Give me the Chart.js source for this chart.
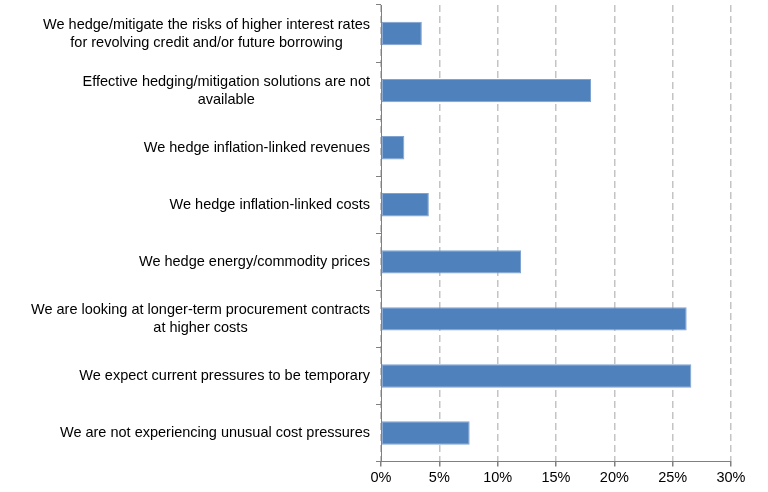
<!DOCTYPE html>
<html><head><meta charset="utf-8">
<script src="https://cdn.jsdelivr.net/npm/chart.js@4"></script>
<style>html,body{margin:0;padding:0;background:#fff}#wrap{width:768px;height:492px}</style>
</head><body><div id="wrap"><canvas id="c"></canvas></div>
<script>
const categories = [
  ["We hedge/mitigate the risks of higher interest rates", "for revolving credit and/or future borrowing"],
  ["Effective hedging/mitigation solutions are not", "available"],
  ["We hedge inflation-linked revenues"],
  ["We hedge inflation-linked costs"],
  ["We hedge energy/commodity prices"],
  ["We are looking at longer-term procurement contracts", "at higher costs"],
  ["We expect current pressures to be temporary"],
  ["We are not experiencing unusual cost pressures"]
];
const values = [3.5, 18.0, 2.0, 4.1, 12.0, 26.2, 26.6, 7.6];
const xTicks = [0, 5, 10, 15, 20, 25, 30];

const FONT = '"Liberation Sans", Arial, sans-serif';
const FSIZE = 14.5;

const labelPlugin = {
  id: 'centeredLabels',
  afterDraw(chart) {
    const y = chart.scales.y;
    const ctx = chart.ctx;
    ctx.save();
    ctx.font = FSIZE + 'px ' + FONT;
    ctx.fillStyle = '#000';
    ctx.textBaseline = 'middle';
    ctx.textAlign = 'center';
    const right = y.right - 11;
    const lh = 18;
    categories.forEach((lines, i) => {
      const cy = y.getPixelForTick(i);
      const w = Math.max(...lines.map(l => ctx.measureText(l).width));
      const cx = right - w / 2;
      const y0 = cy - (lines.length - 1) * lh / 2;
      lines.forEach((l, k) => ctx.fillText(l, cx, y0 + k * lh));
    });
    ctx.restore();
  }
};

new Chart(document.getElementById('c'), {
  type: 'bar',
  data: {
    labels: categories,
    datasets: [{
      data: values,
      backgroundColor: '#4F81BD',
      borderColor: '#7FA3D0',
      borderWidth: 1,
      borderSkipped: false,
      categoryPercentage: 1,
      barPercentage: 0.41
    }]
  },
  options: {
    indexAxis: 'y',
    responsive: true,
    maintainAspectRatio: false,
    animation: false,
    layout: { padding: { top: 5, right: 37, bottom: 2, left: 0 } },
    plugins: { legend: { display: false }, tooltip: { enabled: false } },
    scales: {
      x: {
        min: 0, max: 30,
        afterBuildTicks(s) { s.ticks = xTicks.map(v => ({ value: v })); },
        ticks: {
          callback: v => v + '%',
          font: { family: FONT, size: FSIZE },
          color: '#000',
          padding: 3,
          maxRotation: 0
        },
        grid: {
          color: '#c4c4c4',
          lineWidth: 1.5,
          tickColor: '#808080',
          tickLength: 5,
          tickBorderDash: []
        },
        border: { color: '#808080', width: 1, dash: [7, 4] }
      },
      y: {
        afterFit(s) { s.width = 381; },
        ticks: { display: false },
        grid: {
          offset: true,
          drawOnChartArea: false,
          tickColor: '#808080',
          tickLength: 5
        },
        border: { color: '#808080', width: 1 }
      }
    }
  },
  plugins: [labelPlugin]
});
</script>
</body></html>
